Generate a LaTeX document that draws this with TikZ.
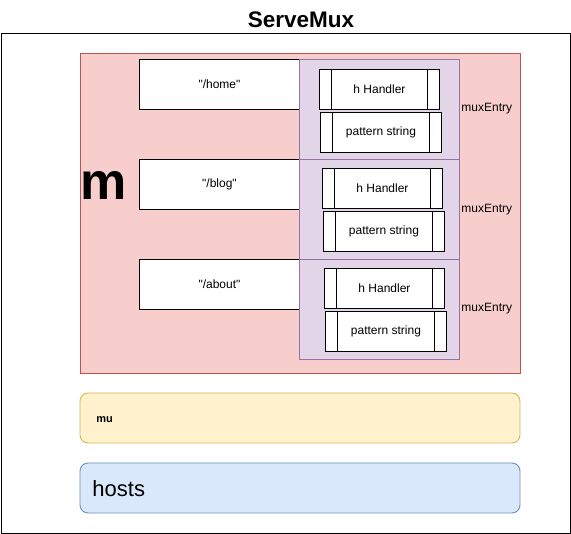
\documentclass[tikz,border=0pt]{standalone}
\usepackage{fontspec}
\setmainfont{Liberation Sans}
\definecolor{redfill}{HTML}{F8CECC}
\definecolor{redline}{HTML}{B85450}
\definecolor{purplefill}{HTML}{E1D5E7}
\definecolor{purpleline}{HTML}{9673A6}
\definecolor{yellowfill}{HTML}{FFF2CC}
\definecolor{yellowline}{HTML}{D6B656}
\definecolor{bluefill}{HTML}{DAE8FC}
\definecolor{blueline}{HTML}{6C8EBF}
\newcommand{\qt}[1]{\textquotedbl#1\textquotedbl}
\tikzset{
  keybox/.style={draw, fill=white, anchor=north west, minimum width=160pt, minimum height=50pt, inner sep=0pt, font=\fontsize{12}{14}\selectfont},
  entrybox/.style={draw=purpleline, fill=purplefill, anchor=north west, minimum width=160pt, minimum height=100pt, inner sep=0pt},
  procbox/.style={draw, fill=white, anchor=north west, minimum width=120pt, minimum height=40pt, inner sep=0pt, font=\fontsize{12}{14}\selectfont,
    path picture={\draw ([xshift=12pt]path picture bounding box.north west) -- ([xshift=12pt]path picture bounding box.south west);
      \draw ([xshift=-12pt]path picture bounding box.north east) -- ([xshift=-12pt]path picture bounding box.south east);}},
  lbl/.style={anchor=west, inner sep=0pt, font=\fontsize{12}{14}\selectfont}
}
\begin{document}
\begin{tikzpicture}[x=1pt,y=-1pt,line width=0.9pt]
  \useasboundingbox (0,0) rectangle (571,534);
  \node[font=\fontsize{22.5}{26}\bfseries] (title) at (301,20) {ServeMux};
  \draw (1,33) rectangle (570,533);
  % map m
  \draw[redline, fill=redfill] (80,53) rectangle (520,373);
  \node[font=\fontsize{52}{58}\bfseries, anchor=base] (m) at (104,200) {m};
  \node[keybox] (home) at (139,59) {\qt{/home}};
  \node[keybox] (blog) at (139,159) {\qt{/blog}};
  \node[keybox] (about) at (139,259) {\qt{/about}};
  \node[entrybox] (e1) at (299,59) {};
  \node[entrybox] (e2) at (299,159) {};
  \node[entrybox] (e3) at (299,259) {};
  \node[procbox] (h1) at (319,69) {h Handler};
  \node[procbox, minimum width=121pt] (p1) at (320,112) {pattern string};
  \node[procbox] (h2) at (322,168) {h Handler};
  \node[procbox, minimum width=121pt] (p2) at (323,211) {pattern string};
  \node[procbox] (h3) at (324,268) {h Handler};
  \node[procbox, minimum width=121pt] (p3) at (325,311) {pattern string};
  \node[lbl] (l1) at (461,109) {muxEntry};
  \node[lbl] (l2) at (461,210) {muxEntry};
  \node[lbl] (l3) at (461,309) {muxEntry};
  % mu and hosts
  \draw[yellowline, fill=yellowfill, rounded corners=8pt] (80,393) rectangle (520,443);
  \node[lbl, font=\fontsize{11}{13}\bfseries] (mu) at (96,420) {mu};
  \draw[blueline, fill=bluefill, rounded corners=8pt] (80,463) rectangle (520,513);
  \node[lbl, font=\fontsize{22}{26}\selectfont] (hosts) at (92,489) {hosts};
\end{tikzpicture}
\end{document}
